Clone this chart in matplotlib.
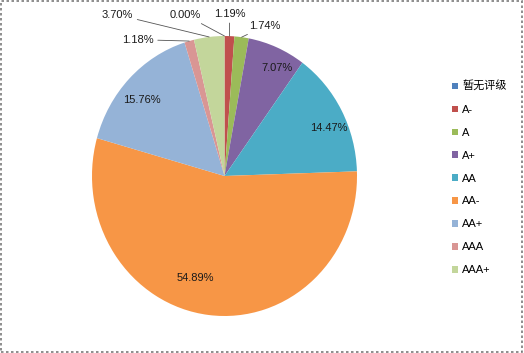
import matplotlib.pyplot as plt
import numpy as np
from matplotlib.patches import Patch, Rectangle

plt.rcParams['font.family'] = ['Liberation Sans', 'Noto Sans CJK SC', 'DejaVu Sans']

# data
ratings = ["暂无评级", "A-", "A", "A+", "AA", "AA-", "AA+", "AAA", "AAA+"]
shares = [0.00, 1.19, 1.74, 7.07, 14.47, 54.89, 15.76, 1.18, 3.70]
colors = ["#4F81BD", "#C0504D", "#9BBB59", "#8064A2", "#4BACC6",
          "#F79646", "#95B3D7", "#D99694", "#C3D69B"]

fig = plt.figure(figsize=(5.24, 3.53), dpi=100)
W, H = 524, 353
ax = fig.add_axes([92 / W, (H - 316) / H, 265 / W, 280 / H])

wedges, _ = ax.pie(shares, colors=colors, startangle=90, counterclock=False,
                   radius=1, wedgeprops=dict(linewidth=0))
ax.set_aspect('auto')
ax.set_xlim(-1, 1)
ax.set_ylim(-1, 1)

# mid angles of each slice
cum = np.cumsum([0] + shares[:-1])
mid = np.radians(90 - 3.6 * (cum + np.array(shares) / 2))

# labels inside the big slices (radius, angle shift in deg)
inside = {3: (0.87, -4), 4: (0.86, -4.5), 5: (0.76, -10), 6: (0.83, 3)}
for i, (r, sh) in inside.items():
    a = mid[i] + np.radians(sh)
    ax.text(r * np.cos(a), r * np.sin(a), "%.2f%%" % shares[i],
            ha='center', va='center', fontsize=8, color='#1a1a1a')

# small slices: label outside with leader line (offset in points)
outside = {0: (-28, 15), 1: (0, 16), 2: (17, 8), 7: (-37, 1), 8: (-66, 16)}
for i, (dx, dy) in outside.items():
    x, y = np.cos(mid[i]), np.sin(mid[i])
    ax.annotate("%.2f%%" % shares[i], xy=(x, y), xytext=(dx, dy),
                textcoords='offset points', ha='center', va='center',
                fontsize=8, color='#1a1a1a',
                arrowprops=dict(arrowstyle='-', color='#555555', lw=0.6,
                                shrinkA=1, shrinkB=0))

handles = [Patch(facecolor=c, edgecolor='none') for c in colors]
fig.legend(handles, ratings, loc='upper left',
           bbox_to_anchor=(452 / W, 1 - 81 / H), frameon=False,
           fontsize=8, handlelength=0.55, handleheight=0.55,
           handletextpad=0.35, labelspacing=1.16, borderpad=0,
           borderaxespad=0)

fig.patches.append(Rectangle((0.001, 0.002), 0.996, 0.995,
                             transform=fig.transFigure, fill=False,
                             edgecolor='#7a7a7a', linewidth=1.2,
                             linestyle=(0, (1.5, 1.5))))

fig.savefig("out.png", dpi=100)
